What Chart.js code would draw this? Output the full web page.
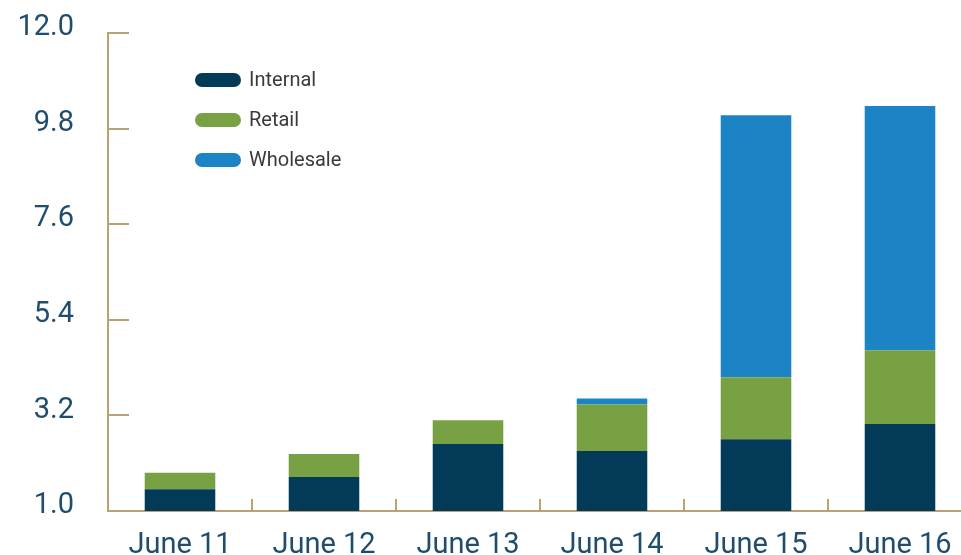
<!DOCTYPE html>
<html>
<head>
<meta charset="utf-8">
<script src="https://cdn.jsdelivr.net/npm/chart.js@4"></script>
<style>
  html, body { margin: 0; padding: 0; background: #fff; overflow: hidden; }
  #wrap { position: relative; width: 972px; height: 555px; }
</style>
</head>
<body>
<div id="wrap"><canvas id="chart"></canvas></div>
<script>
// ===== Data =====
const categories = ["June 11", "June 12", "June 13", "June 14", "June 15", "June 16"];
const internal = [1.5, 1.78, 2.54, 2.38, 2.65, 3.0];
const retail = [0.38, 0.53, 0.55, 1.07, 1.43, 1.70];
const wholesale = [0, 0, 0, 0.14, 6.03, 5.62];
const yTicks = [1.0, 3.2, 5.4, 7.6, 9.8, 12.0];

const axisColor = "#b9a273";
const textColor = "#1f4d6e";
const font = "Roboto";

// ===== Legend drawn on canvas =====
const legendPills = {
  id: "legendPills",
  afterDraw(chart) {
    const ctx = chart.ctx;
    ctx.save();
    chart.data.datasets.forEach((ds, i) => {
      const y = 80 + i * 40;
      ctx.fillStyle = ds.backgroundColor;
      ctx.beginPath();
      ctx.roundRect(195, y - 7, 46, 14, 7);
      ctx.fill();
      ctx.fillStyle = "#3a3a3a";
      ctx.font = "400 20px " + font;
      ctx.textBaseline = "middle";
      ctx.fillText(ds.label, 249, y + 1);
    });
    ctx.restore();
  }
};

const chart = new Chart(document.getElementById("chart"), {
  type: "bar",
  data: {
    labels: categories,
    datasets: [
      { label: "Internal", data: internal, backgroundColor: "#033a58" },
      { label: "Retail", data: retail, backgroundColor: "#78a143" },
      { label: "Wholesale", data: wholesale, backgroundColor: "#1c83c5" }
    ]
  },
  options: {
    responsive: true,
    maintainAspectRatio: false,
    animation: false,
    layout: { padding: { top: 33, left: 0, right: 0, bottom: 0 } },
    datasets: { bar: { categoryPercentage: 1, barPercentage: 0.49 } },
    plugins: { legend: { display: false }, tooltip: { enabled: false } },
    scales: {
      x: {
        stacked: true,
        afterFit: s => { s.height = 44; s.paddingLeft = 0; s.paddingRight = 0; },
        border: { display: true, color: axisColor, width: 2 },
        grid: { offset: true, drawOnChartArea: false, tickLength: -12, color: axisColor, lineWidth: 2 },
        ticks: { color: textColor, font: { family: font, size: 29, weight: 400 }, padding: 29, maxRotation: 0 }
      },
      y: {
        stacked: true,
        min: 1,
        max: 12,
        afterFit: s => { s.width = 108; s.paddingTop = 0; s.paddingBottom = 0; },
        afterBuildTicks: s => { s.ticks = yTicks.map(v => ({ value: v })); },
        border: { display: true, color: axisColor, width: 2 },
        grid: { drawOnChartArea: false, tickLength: -21, color: axisColor, lineWidth: 2 },
        ticks: {
          color: textColor,
          font: { family: font, size: 29, weight: 400 },
          padding: 55,
          labelOffset: -5,
          callback: v => Number(v).toFixed(1)
        }
      }
    }
  },
  plugins: [legendPills]
});
</script>
</body>
</html>
